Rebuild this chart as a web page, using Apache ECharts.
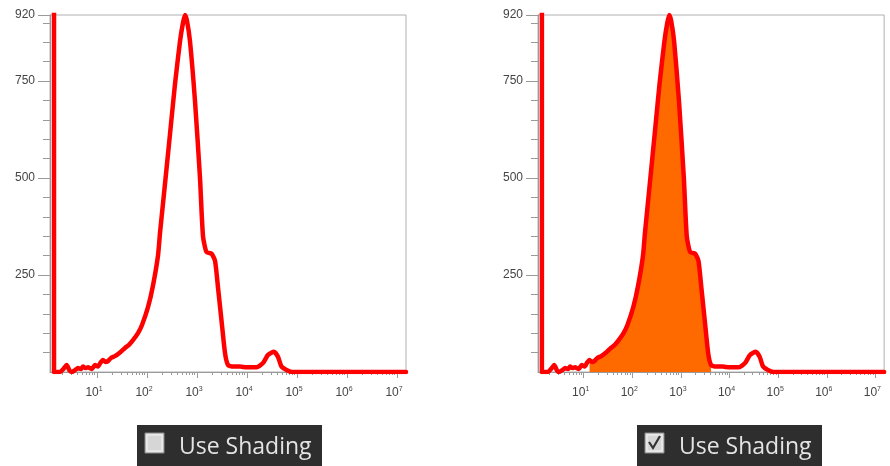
<!DOCTYPE html>
<html><head><meta charset="utf-8">
<script src="https://cdn.jsdelivr.net/npm/echarts@6/dist/echarts.min.js"></script>
<style>html,body{margin:0;padding:0;background:#fff}#c{width:890px;height:466px}</style>
</head><body><div id="c"></div>
<script>
// Histogram: x = log10(fluorescence), y = count
const logX = [0.14,0.14,0.20,0.26,0.33,0.394,0.45,0.494,0.56,0.62,0.68,0.72,0.77,0.82,0.90,0.96,1.02,1.07,1.12,1.17,1.22,1.28,1.36,1.46,1.56,1.64,1.72,1.82,1.90,2.02,2.12,2.22,2.26,2.36,2.46,2.56,2.66,2.72,2.76,2.80,2.86,2.96,3.06,3.12,3.19,3.29,3.36,3.42,3.49,3.56,3.62,3.72,3.86,3.99,4.19,4.32,4.42,4.54,4.62,4.69,4.79,4.90,7.18];
const counts = [2200,0,0,0,8,18,4,0,5,10,8,14,10,12,8,18,14,24,31,26,28,36,41,50,62,70,82,100,121,167,223,300,358,485,613,742,852,900,920,905,852,698,500,350,309,305,287,218,133,49,18,14,14,12,12,23,44,52,39,14,5,0,0];
const yLabelVals = [250,500,750,920];
const xDecades = [1,2,3,4,5,6,7];
const shadeGate = [1.10, 3.64];
const boxText = 'Use Shading';

const xMin = 0.06, xMax = 7.18, yMin = 0, yMax = 920;
const yMinor = []; for (let v = 50; v < 920; v += 50) yMinor.push(v);
const xMinor = []; for (let d = 0; d <= 7; d++) for (let k = 2; k <= 9; k++) { const v = d + Math.log10(k); if (v > xMin && v < xMax) xMinor.push(v); }

const pts = logX.map((x,i)=>[x, counts[i]]);
const shaded = pts.filter(p => p[0] >= shadeGate[0] && p[0] <= shadeGate[1]);

const axisGray = '#9a9a9a';
const lab = {fontFamily:'Liberation Sans', fontSize:12, color:'#444'};
const grids = [{left:50, top:15, width:356, height:357}, {left:538, top:15, width:356, height:357}];
const xAxes = [], yAxes = [];
grids.forEach((g, gi) => {
  xAxes.push({type:'value', gridIndex:gi, position:'bottom', min:xMin, max:xMax,
    axisLine:{show:true, lineStyle:{color:axisGray}}, splitLine:{show:false},
    axisTick:{show:true, length:6, customValues:xDecades, lineStyle:{color:axisGray}},
    axisLabel:{show:true, margin:14, customValues:xDecades,
      formatter: v => '{b|10}{s|' + Math.round(v) + '}',
      rich:{b:{fontFamily:'Liberation Sans', fontSize:12, color:'#444', lineHeight:14}, s:{fontFamily:'Liberation Sans', fontSize:7, color:'#444', verticalAlign:'top', lineHeight:14, padding:[0,6,0,0]}}}});
  xAxes.push({type:'value', gridIndex:gi, position:'bottom', min:xMin, max:xMax,
    axisLine:{show:false}, splitLine:{show:false}, axisLabel:{show:false},
    axisTick:{show:true, length:3, customValues:xMinor, lineStyle:{color:axisGray}}});
  yAxes.push({type:'value', gridIndex:gi, position:'left', min:yMin, max:yMax,
    axisLine:{show:true, lineStyle:{color:axisGray}}, splitLine:{show:false},
    axisTick:{show:true, length:12, customValues:yLabelVals, lineStyle:{color:axisGray}},
    axisLabel:Object.assign({show:true, margin:15, customValues:yLabelVals}, lab)});
  yAxes.push({type:'value', gridIndex:gi, position:'left', min:yMin, max:yMax,
    axisLine:{show:false}, splitLine:{show:false}, axisLabel:{show:false},
    axisTick:{show:true, length:7, customValues:yMinor, lineStyle:{color:axisGray}}});
});

const lineSeries = gi => ({type:'line', xAxisIndex:gi*2, yAxisIndex:gi*2, data:pts, showSymbol:false, symbol:'none', smooth:0.2,
  lineStyle:{color:'#ff0000', width:4.5, join:'round', cap:'round'}, z:5, animation:false});

const series = [
  lineSeries(0),
  {type:'line', xAxisIndex:2, yAxisIndex:2, data:shaded, symbol:'none', showSymbol:false, smooth:0.2,
   lineStyle:{width:0}, areaStyle:{color:'#ff6a00', opacity:1}, z:3, animation:false},
  lineSeries(1)
];

function box(x, checked) {
  const els = [
    {type:'rect', shape:{x:x, y:425, width:185, height:41}, style:{fill:'#2e2e2e'}},
    {type:'rect', shape:{x:x+8, y:433, width:19, height:20}, style:{fill:'#dedede', stroke:'#8a8a8a', lineWidth:1}},
    {type:'rect', shape:{x:x+10, y:435, width:15, height:16}, style:{fill:'#d6d6d6', stroke:'#f2f2f2', lineWidth:1}},
    {type:'text', x:x+42, y:447, style:{text:boxText, font:'23px "Open Sans"', fill:'#e4e4e4', textVerticalAlign:'middle'}}
  ];
  if (checked) els.push({type:'polyline', shape:{points:[[x+12,442],[x+16,448],[x+23,436]]}, style:{stroke:'#333', lineWidth:2.2, fill:null}});
  return els;
}

const chart = echarts.init(document.getElementById('c'), null, {renderer:'canvas'});
chart.setOption({
  animation:false, backgroundColor:'#fff',
  grid: grids.map(g => Object.assign({show:true, borderColor:'#b0b0b0', borderWidth:1, backgroundColor:'#fff'}, g)),
  xAxis:xAxes, yAxis:yAxes, series:series,
  graphic: box(137, false).concat(box(637, true))
});
</script></body></html>
